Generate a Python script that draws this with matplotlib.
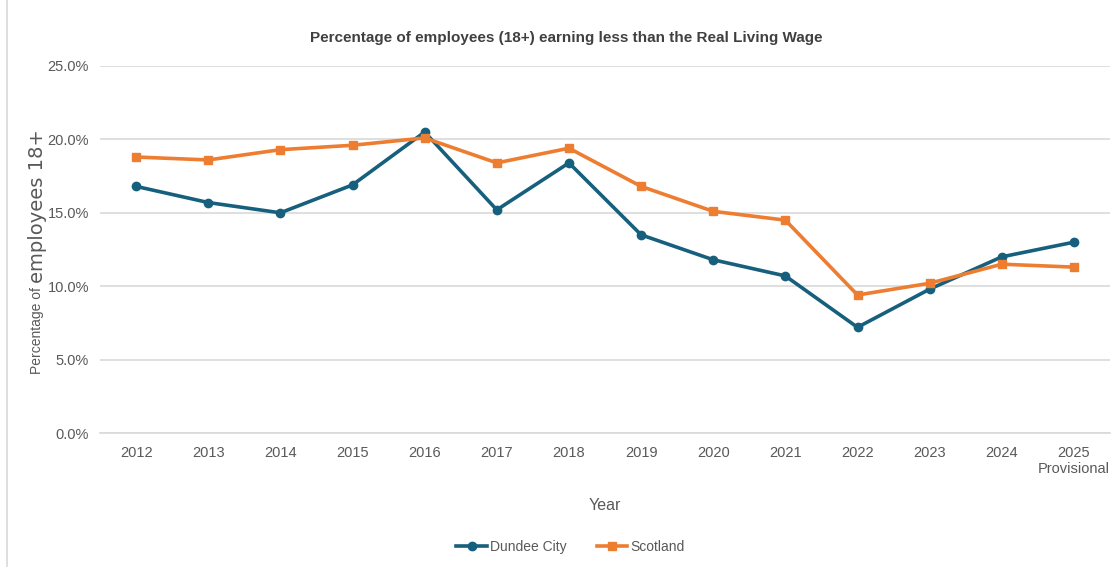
import matplotlib.pyplot as plt
from matplotlib.patches import Rectangle
from matplotlib.ticker import FuncFormatter

plt.rcParams["font.family"] = ["Liberation Sans Narrow", "Liberation Sans", "DejaVu Sans"]

# ---------------- data ----------------
years = ["2012", "2013", "2014", "2015", "2016", "2017", "2018",
         "2019", "2020", "2021", "2022", "2023", "2024", "2025\nProvisional"]
dundee = [16.8, 15.7, 15.0, 16.9, 20.5, 15.2, 18.4,
          13.5, 11.8, 10.7, 7.2, 9.8, 12.0, 13.0]
scotland = [18.8, 18.6, 19.3, 19.6, 20.1, 18.4, 19.4,
            16.8, 15.1, 14.5, 9.4, 10.2, 11.5, 11.3]

TEXT = "#595959"
GRID = "#D9D9D9"

fig = plt.figure(figsize=(11.14, 5.67), dpi=100, facecolor="white")
ax = fig.add_axes([0.0898, 0.2363, 0.9066, 0.6473])

x = list(range(len(years)))
ax.plot(x, dundee, color="#17607D", linewidth=2.6, marker="o", markersize=6,
        label="Dundee City", zorder=3)
ax.plot(x, scotland, color="#ED7D31", linewidth=2.6, marker="s", markersize=6,
        label="Scotland", zorder=3)

ax.set_xlim(-0.5, len(years) - 0.5)
ax.set_ylim(0, 25)
ax.set_yticks([0, 5, 10, 15, 20, 25])
ax.yaxis.set_major_formatter(FuncFormatter(lambda v, p: f"{v:.1f}%"))
ax.set_xticks(x)
ax.set_xticklabels(years)
ax.grid(axis="y", color=GRID, linewidth=1.2)
ax.set_axisbelow(True)
for s in ["top", "right", "left"]:
    ax.spines[s].set_visible(False)
ax.spines["bottom"].set_color(GRID)
ax.spines["bottom"].set_linewidth(1.2)
ax.tick_params(axis="both", length=0, colors=TEXT, labelsize=10.5)
ax.tick_params(axis="y", pad=8)
ax.tick_params(axis="x", pad=9)

ax.set_xlabel("Year", fontsize=11.5, color=TEXT, labelpad=16)
# y label drawn in two sizes like the original
t1 = fig.text(0.033, 1 - 374 / 567, "Percentage of ", rotation=90,
              ha="center", va="bottom", fontsize=10, color=TEXT)
fig.add_artist(plt.Annotation("employees 18+", xy=(0.55, 1.0), xycoords=t1,
                              rotation=90, ha="center", va="bottom",
                              fontsize=14, color=TEXT, family="DejaVu Sans"))

fig.text(0.508, 0.933, "Percentage of employees (18+) earning less than the Real Living Wage",
         ha="center", va="center", fontsize=11, fontweight="bold", color="#404040")

leg = fig.legend(loc="center", bbox_to_anchor=(0.512, 0.035), ncol=2, frameon=False,
                 fontsize=10, handlelength=2.2, columnspacing=2.2, handletextpad=0.2)
for t in leg.get_texts():
    t.set_color(TEXT)

# chart border
fig.patches.append(Rectangle((0.006, -0.01), 0.995, 1.02, transform=fig.transFigure,
                             fill=False, edgecolor="#D9D9D9", linewidth=1.2))

plt.savefig("out.png", dpi=100, facecolor="white")
plt.close()
